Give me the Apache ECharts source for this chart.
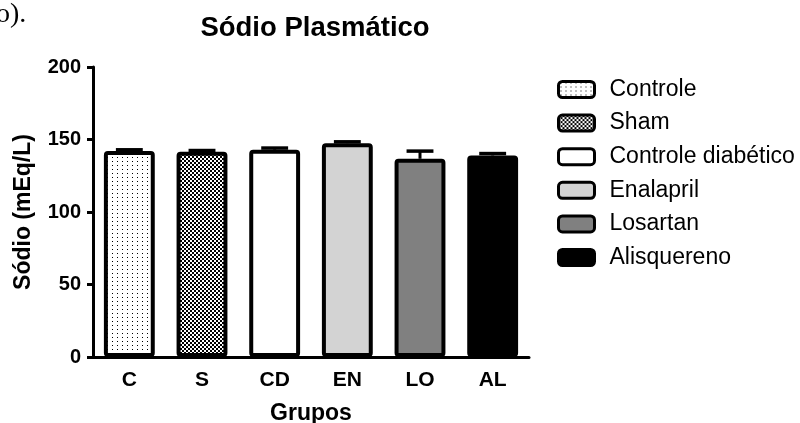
<!DOCTYPE html>
<html>
<head>
<meta charset="utf-8">
<script src="https://cdn.jsdelivr.net/npm/echarts@6/dist/echarts.min.js"></script>
<style>html,body{margin:0;padding:0;background:#fff}#c{width:800px;height:423px}</style>
</head>
<body>
<div id="c"></div>
<script>
var categories = ['C', 'S', 'CD', 'EN', 'LO', 'AL'];
var groupNames = ['Controle', 'Sham', 'Controle diabético', 'Enalapril', 'Losartan', 'Alisquereno'];
var means = [142, 141.5, 143, 147.5, 136.7, 139];
var sems = [0.9, 0.9, 1.1, 0.9, 5.3, 1.3];
var yTicks = [0, 50, 100, 150, 200];

function dotPattern() {
  var c = document.createElement('canvas'); c.width = 5; c.height = 4;
  var g = c.getContext('2d'); g.fillStyle = '#fff'; g.fillRect(0, 0, 5, 4);
  g.fillStyle = '#000'; g.fillRect(2, 1, 1, 1);
  return { image: c, repeat: 'repeat' };
}
function checkerPattern() {
  var c = document.createElement('canvas'); c.width = 4; c.height = 4;
  var g = c.getContext('2d'); g.fillStyle = '#fff'; g.fillRect(0, 0, 4, 4);
  g.fillStyle = '#000'; g.fillRect(0, 0, 2, 2); g.fillRect(2, 2, 2, 2);
  return { image: c, repeat: 'repeat' };
}
var fills = [dotPattern(), checkerPattern(), '#ffffff', '#d3d3d3', '#808080', '#000000'];

var chart = echarts.init(document.getElementById('c'), null, { renderer: 'canvas' });
var font = '"Liberation Sans", Arial, sans-serif';

var series = groupNames.map(function (name, i) {
  var d = categories.map(function (c, j) { return j === i ? means[i] : '-'; });
  return {
    name: name, type: 'bar', data: d, barWidth: '70%', barGap: '-100%',
    itemStyle: { color: fills[i], borderColor: '#000', borderWidth: 4, borderRadius: 2 },
    z: 2, silent: true, animation: false
  };
});
series.push({
  type: 'custom', z: 5, silent: true, animation: false,
  data: categories.map(function (c, i) { return [i, means[i], sems[i]]; }),
  encode: { x: 0, y: 1 },
  renderItem: function (params, api) {
    var x = api.value(0), m = api.value(1), s = api.value(2);
    var top = api.coord([x, m + s]);
    var base = api.coord([x, m]);
    var half = api.size([1, 0])[0] * 0.185;
    return {
      type: 'group',
      children: [
        { type: 'line', shape: { x1: top[0], y1: top[1], x2: base[0], y2: base[1] }, style: { stroke: '#000', lineWidth: 3 } },
        { type: 'line', shape: { x1: top[0] - half, y1: top[1], x2: top[0] + half, y2: top[1] }, style: { stroke: '#000', lineWidth: 3.5 } }
      ]
    };
  }
});

chart.setOption({
  animation: false,
  backgroundColor: '#fff',
  title: {
    text: 'Sódio Plasmático', left: 310, top: 9, textAlign: 'center',
    textStyle: { fontFamily: font, fontWeight: 'bold', fontSize: 27.5, color: '#000' }
  },
  graphic: [{
    type: 'text', left: -4, top: 1,
    style: { text: 'o).', font: '28px "Liberation Serif", "Times New Roman", serif', fill: '#000' }
  }],
  legend: {
    orient: 'vertical', left: 552, top: 73,
    data: groupNames,
    itemWidth: 36, itemHeight: 16, itemGap: 10.6,
    icon: 'roundRect',
    itemStyle: { borderWidth: 3 },
    textStyle: { fontFamily: font, fontSize: 23, color: '#000', padding: [0, 0, 0, 10] },
    selectedMode: false
  },
  grid: { left: 93, right: 271, top: 67, bottom: 66, containLabel: false, outerBoundsMode: 'none' },
  xAxis: {
    type: 'category', data: categories,
    name: 'Grupos', nameLocation: 'middle', nameGap: 45,
    nameTextStyle: { fontFamily: font, fontWeight: 'bold', fontSize: 23, color: '#000' },
    axisLine: { lineStyle: { color: '#000', width: 3 } },
    axisTick: { alignWithLabel: true, length: 6, lineStyle: { color: '#000', width: 3 } },
    axisLabel: { fontFamily: font, fontWeight: 'bold', fontSize: 21, color: '#000', margin: 13 },
    splitLine: { show: false }
  },
  yAxis: {
    type: 'value', min: 0, max: 200, interval: 50,
    name: 'Sódio (mEq/L)', nameLocation: 'middle', nameGap: 58, nameRotate: 90,
    nameTextStyle: { fontFamily: font, fontWeight: 'bold', fontSize: 23, color: '#000' },
    axisLine: { show: true, lineStyle: { color: '#000', width: 3 } },
    axisTick: { show: true, length: 6, lineStyle: { color: '#000', width: 3 } },
    axisLabel: {
      fontFamily: font, fontWeight: 'bold', fontSize: 20, color: '#000', margin: 12,
      formatter: function (v) { return yTicks.indexOf(v) >= 0 ? String(v) : ''; }
    },
    splitLine: { show: false }
  },
  series: series
});
</script>
</body>
</html>
